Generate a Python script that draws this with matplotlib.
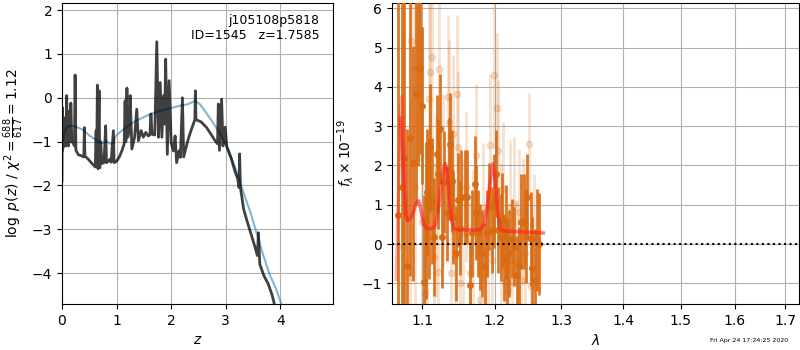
import matplotlib
matplotlib.use("Agg")
import matplotlib.pyplot as plt
from matplotlib import ticker
import numpy as np

# --- left panel: log p(z) ---
pz_z = [0.000, 0.004, 0.010, 0.030, 0.050, 0.060, 0.070, 0.086, 0.095, 0.120,
        0.135, 0.150, 0.162, 0.180, 0.210, 0.228, 0.240, 0.255, 0.300, 0.350,
        0.400, 0.410, 0.420, 0.480, 0.550, 0.610, 0.625, 0.635, 0.648, 0.660,
        0.680, 0.692, 0.710, 0.730, 0.770, 0.800, 0.815, 0.850, 0.880, 0.900,
        0.942, 0.955, 1.000, 1.050, 1.100, 1.140, 1.156, 1.170, 1.190, 1.205,
        1.240, 1.250, 1.280, 1.330, 1.370, 1.400, 1.450, 1.490, 1.535, 1.580,
        1.610, 1.630, 1.650, 1.700, 1.737, 1.768, 1.800, 1.830, 1.865, 1.880,
        1.900, 1.930, 1.963, 2.000, 2.040, 2.073, 2.100, 2.146, 2.170, 2.207,
        2.230, 2.300, 2.350, 2.400, 2.435, 2.445, 2.455, 2.550, 2.650, 2.730,
        2.800, 2.850, 2.865, 2.885, 2.925, 2.950, 2.990, 3.020, 3.100, 3.170,
        3.220, 3.245, 3.255, 3.270, 3.330, 3.400, 3.450, 3.540, 3.580, 3.600,
        3.625, 3.700, 3.780, 3.850, 3.900]
pz_log = [-1.89, -0.22, -1.20, -1.05, -1.10, -0.45, -1.10, 0.05, -1.05, -1.10,
          -0.30, -1.00, -0.12, -1.00, -1.05, -1.10, 0.52, -1.20, -1.30, -1.32,
          -1.35, -0.68, -1.33, -1.40, -1.50, -1.58, -0.75, -1.55, 0.29, -1.62,
          0.16, -1.60, -1.00, -1.50, -1.48, -0.64, -1.48, -1.45, -1.40, -1.47,
          -0.75, -1.48, -1.45, -1.35, -1.20, -1.05, -0.07, -1.00, 0.22, -0.90,
          -0.70, 0.05, -1.17, -0.90, -0.26, -0.98, -0.75, -0.90, -0.79, -0.87,
          -0.85, -0.37, -0.83, -0.85, 1.28, -0.90, 0.35, -0.90, 0.05, -0.60,
          0.88, -1.29, 0.39, -1.02, -1.21, -0.87, -1.48, -1.21, -1.36, 0.00,
          -1.35, -1.00, -0.80, -0.62, -0.50, 0.16, -0.50, -0.55, -0.68, -0.83,
          -0.97, -1.05, -0.14, -1.20, -0.03, -1.10, -0.67, -1.12, -1.38, -1.68,
          -1.85, -2.05, -1.28, -2.05, -2.55, -2.85, -3.05, -3.42, -3.60, -3.08,
          -3.80, -4.06, -4.25, -4.50, -4.75]

prior_z = [0.000, 0.030, 0.080, 0.150, 0.250, 0.370, 0.500, 0.610, 0.730, 0.820,
           0.880, 0.940, 0.980, 1.030, 1.150, 1.310, 1.450, 1.620, 1.850, 2.040,
           2.160, 2.300, 2.440, 2.530, 2.630, 2.730, 2.900, 3.030, 3.200, 3.320,
           3.450, 3.570, 3.690, 3.810, 3.920, 4.030]
prior_log = [-1.10, -0.85, -0.68, -0.63, -0.66, -0.72, -0.86, -0.95, -1.04, -0.99,
             -1.05, -1.03, -0.88, -0.82, -0.70, -0.56, -0.47, -0.37, -0.28, -0.22,
             -0.18, -0.15, -0.07, -0.15, -0.32, -0.50, -0.82, -1.13, -1.68, -2.15,
             -2.60, -3.10, -3.60, -4.05, -4.35, -4.75]

# --- right panel: spectrum (flux in 1e-19) ---
wave = [1.0692, 1.0734, 1.0770, 1.0804, 1.0845, 1.0878, 1.0925, 1.0948, 1.0971, 1.0994,
        1.1031, 1.1048, 1.1064, 1.1090, 1.1111, 1.1135, 1.1157, 1.1194, 1.1217, 1.1236,
        1.1264, 1.1297, 1.1334, 1.1355, 1.1376, 1.1400, 1.1422, 1.1450, 1.1483, 1.1506,
        1.1529, 1.1576, 1.1613, 1.1645, 1.1682, 1.1715, 1.1740, 1.1762, 1.1794, 1.1822,
        1.1855, 1.1887, 1.1924, 1.1961, 1.1990, 1.2017, 1.2050, 1.2087, 1.2110, 1.2134,
        1.2160, 1.2180, 1.2213, 1.2250, 1.2287, 1.2320, 1.2352, 1.2389, 1.2436, 1.2460,
        1.2482, 1.2529, 1.2552, 1.2599, 1.2622, 1.2654]
flux = [0.74, 1.45, 2.20, -0.57, 2.69, 2.05, 3.82, 4.48, 4.48, 3.52,
        -0.96, 0.60, 1.33, 0.90, 2.47, 1.10, 0.19, 2.30, 1.79, 2.93,
        0.19, 1.58, 0.78, 1.90, 2.55, 1.60, 0.69, -0.24, 1.12, 0.40,
        1.20, 1.20, 1.20, -1.04, 0.27, 1.54, 0.80, 0.27, -0.07, -0.24,
        -0.57, 0.27, 0.95, 0.36, 1.10, 1.79, 0.36, 0.17, 0.60, -0.34,
        0.30, -0.45, -0.24, 0.14, -0.07, -0.79, -0.57, 0.57, 0.57, 0.20,
        1.20, 0.12, -0.62, -0.91, 0.10, 0.00]
flux_err = [6.0, 5.0, 4.0, 3.5, 3.5, 3.0, 2.8, 2.5, 2.2, 2.0,
            2.2, 2.0, 1.6, 1.8, 1.6, 1.6, 1.5, 1.5, 1.4, 1.4,
            1.3, 1.3, 1.2, 1.3, 1.3, 1.3, 1.2, 1.2, 1.2, 1.2,
            1.2, 1.2, 1.2, 1.1, 1.1, 1.2, 1.2, 1.1, 1.1, 1.1,
            1.1, 1.1, 1.1, 1.1, 1.2, 1.1, 1.1, 1.1, 1.2, 1.1,
            1.2, 1.1, 1.1, 1.0, 1.0, 1.0, 1.0, 1.2, 1.2, 1.2,
            1.1, 1.2, 1.3, 1.3, 1.3, 1.3]

wave2 = [1.0752, 1.0841, 1.0855, 1.0892, 1.0911, 1.0971, 1.0994, 1.1041, 1.1064, 1.1087,
         1.1111, 1.1134, 1.1157, 1.1190, 1.1217, 1.1227, 1.1273, 1.1343, 1.1366, 1.1390,
         1.1413, 1.1436, 1.1469, 1.1483, 1.1506, 1.1552, 1.1599, 1.1655, 1.1692, 1.1738,
         1.1785, 1.1831, 1.1868, 1.1901, 1.1934, 1.1961, 1.1994, 1.2027, 1.2054, 1.2087,
         1.2120, 1.2148, 1.2194, 1.2227, 1.2250, 1.2287, 1.2320, 1.2352, 1.2389, 1.2412,
         1.2445, 1.2506, 1.2538, 1.2575]
flux2 = [-0.07, -0.83, 5.17, 4.45, 1.45, 5.32, 0.57, -1.25, 0.17, 3.69,
         4.39, 4.77, -0.32, 0.95, -0.70, 4.45, 1.62, 3.74, 3.10, -0.73,
         2.81, -0.32, 3.82, 2.47, -1.00, 0.27, 1.45, -0.74, 0.10, 2.26,
         -1.42, 0.78, -0.74, -0.24, 2.53, -0.41, 4.31, 3.47, 2.38, 0.27,
         1.41, -0.96, -1.17, 0.95, -0.96, 1.03, -0.49, 0.82, -0.91, 0.57,
         -0.24, 2.54, -1.08, 0.27]
flux2_err = [5.5, 4.5, 4.0, 3.6, 3.4, 3.2, 3.0, 2.8, 2.7, 2.6,
             2.5, 2.5, 2.4, 2.3, 2.3, 2.2, 2.2, 2.1, 2.1, 2.0,
             2.0, 2.0, 2.0, 1.9, 1.9, 1.9, 1.9, 1.8, 1.8, 1.8,
             1.8, 1.8, 1.8, 1.8, 1.8, 1.8, 1.9, 1.9, 1.8, 1.8,
             1.7, 1.7, 1.7, 1.7, 1.7, 1.7, 1.6, 1.6, 1.6, 1.6,
             1.5, 1.3, 1.5, 1.5]

model_wave = [1.0715, 1.0735, 1.0760, 1.0785, 1.0810, 1.0850, 1.0890, 1.0925, 1.0955, 1.0990,
              1.1020, 1.1060, 1.1120, 1.1170, 1.1210, 1.1250, 1.1285, 1.1310, 1.1335, 1.1365,
              1.1395, 1.1435, 1.1500, 1.1600, 1.1700, 1.1800, 1.1850, 1.1900, 1.1945, 1.1975,
              1.2005, 1.2040, 1.2075, 1.2150, 1.2300, 1.2500, 1.2720]
model_flux = [3.20, 2.60, 1.50, 0.75, 0.60, 0.65, 0.85, 1.05, 1.10, 0.80,
              0.50, 0.40, 0.38, 0.45, 0.80, 1.40, 1.90, 2.05, 1.85, 1.20,
              0.60, 0.38, 0.36, 0.36, 0.36, 0.37, 0.50, 1.00, 1.70, 2.05,
              1.70, 0.90, 0.38, 0.33, 0.32, 0.30, 0.28]
model2_wave = [1.0665, 1.0690, 1.0715, 1.0735, 1.0760, 1.0785, 1.0805]
model2_flux = [-0.90, 1.20, 3.30, 3.75, 2.80, 1.40, 0.62]

wave_ticks = [1.1, 1.2, 1.3, 1.4, 1.5, 1.6, 1.7]

orange = '#d86a12'

fig = plt.figure(figsize=(8, 3.5), dpi=100)

ax = fig.add_axes([0.0775, 0.131, 0.339, 0.86])
ax.plot(prior_z, prior_log, color='#1f77b4', alpha=0.55, lw=1.5, zorder=2)
ax.plot(pz_z, pz_log, color='k', alpha=0.75, lw=2, zorder=3)
ax.set_xlim(0, 4.97)
ax.set_ylim(-4.71, 2.16)
ax.set_xticks([0, 1, 2, 3, 4])
ax.grid()
ax.set_xlabel(r'$z$')
ax.set_ylabel(r'$\log\ p(z)$' + ' / ' + r'$\chi^2=\frac{688}{617}=1.12$')
ax.text(0.95, 0.965, 'j105108p5818\nID=1545   z=1.7585', transform=ax.transAxes,
        ha='right', va='top', fontsize=9, zorder=5)

ax2 = fig.add_axes([0.49, 0.131, 0.509, 0.86])
ax2.errorbar(wave2, flux2, yerr=flux2_err, fmt='o', color=orange, alpha=0.2,
             ms=4.5, elinewidth=2, capsize=0, zorder=2)
ax2.errorbar(wave, flux, yerr=flux_err, fmt='o', color=orange, alpha=0.9,
             ms=4, elinewidth=2, capsize=0, zorder=3)
ax2.plot(model2_wave, model2_flux, color='#ff2020', alpha=0.35, lw=2.5, zorder=4)
ax2.plot(model_wave, model_flux, color='#ff2020', alpha=0.6, lw=2.5, zorder=4)
ax2.axhline(0, color='k', ls=':', lw=1.5, zorder=5)
ax2.set_xscale('log')
ax2.xaxis.set_major_locator(ticker.FixedLocator(wave_ticks))
ax2.xaxis.set_major_formatter(ticker.FormatStrFormatter('%.1f'))
ax2.xaxis.set_minor_locator(ticker.NullLocator())
ax2.set_xlim(1.061, 1.729)
ax2.set_ylim(-1.53, 6.13)
ax2.grid()
ax2.set_xlabel(r'$\lambda$')
ax2.set_ylabel(r'$f_\lambda\times10^{-19}$')

fig.text(0.985, 0.02, 'Fri Apr 24 17:24:25 2020', ha='right', va='bottom', fontsize=4.5)

fig.savefig('out.png', dpi=100)
